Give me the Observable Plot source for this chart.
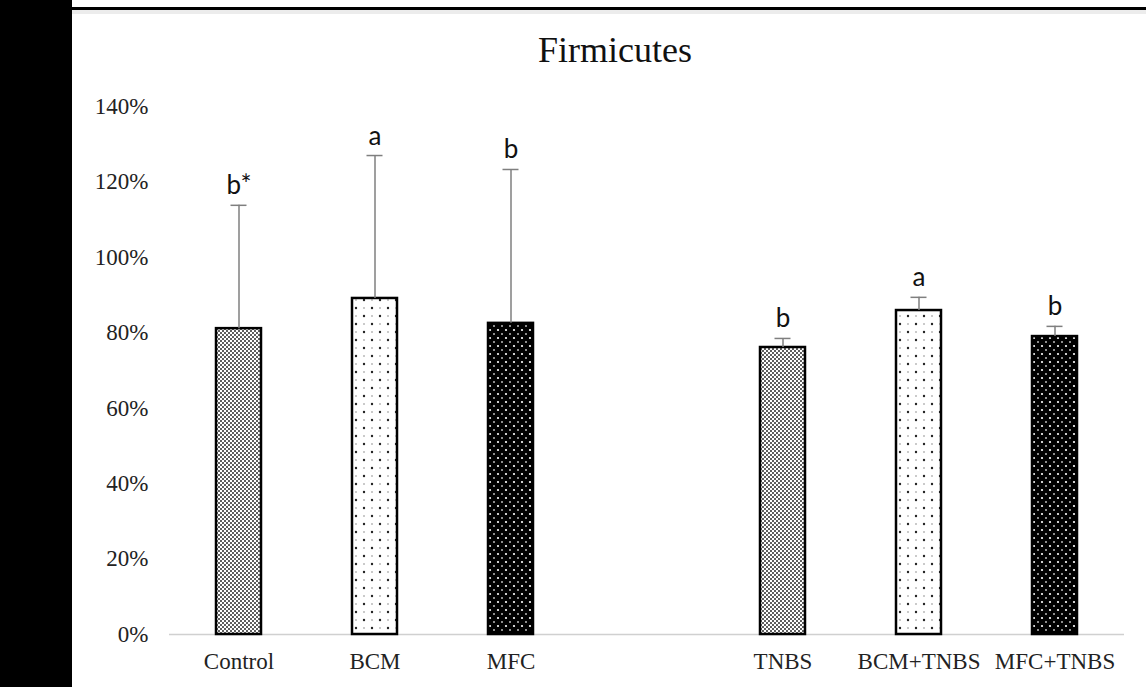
<!DOCTYPE html>
<html>
<head>
<meta charset="utf-8">
<script src="https://cdn.jsdelivr.net/npm/d3@7"></script>
<script src="https://cdn.jsdelivr.net/npm/@observablehq/plot@0.6"></script>
<style>
  html, body { margin: 0; padding: 0; background: #fff; overflow: hidden; }
  #wrap { position: relative; width: 1146px; height: 687px; }
  #band { position: absolute; left: 0; top: 0; width: 72px; height: 687px; background: #000; }
  #topline { position: absolute; left: 72px; top: 7px; width: 1074px; height: 3px; background: #000; }
  #topline2 { position: absolute; left: 72px; top: 10px; width: 1074px; height: 4px; background: #ececec; }
  #title { position: absolute; left: 615px; top: 32px; transform: translateX(-50%);
           font-family: "Liberation Serif", serif; font-size: 36px; line-height: 36px; color: #111; white-space: nowrap; }
  #chart { position: absolute; left: 0; top: 0; }
</style>
</head>
<body>
<div id="wrap">
  <svg width="0" height="0" style="position:absolute">
    <defs>
      <pattern id="pDense" width="4" height="4" patternUnits="userSpaceOnUse">
        <rect width="4" height="4" fill="#fff"/>
        <circle cx="1" cy="1" r="0.95" fill="#1a1a1a"/>
        <circle cx="3" cy="3" r="0.95" fill="#1a1a1a"/>
      </pattern>
      <pattern id="pSparse" width="16" height="16" patternUnits="userSpaceOnUse">
        <rect width="16" height="16" fill="#fff"/>
        <circle cx="4" cy="4" r="1.2" fill="#222"/>
        <circle cx="12" cy="12" r="1.2" fill="#222"/>
        <circle cx="12" cy="4" r="0.8" fill="#888"/>
        <circle cx="4" cy="12" r="0.8" fill="#888"/>
      </pattern>
      <pattern id="pDark" width="8" height="8" patternUnits="userSpaceOnUse">
        <rect width="8" height="8" fill="#000"/>
        <circle cx="2" cy="2" r="1.1" fill="#fff"/>
        <circle cx="6" cy="6" r="1.0" fill="#bbb"/>
      </pattern>
    </defs>
  </svg>
  <div id="band"></div>
  <div id="topline"></div>
  <div id="topline2"></div>
  <div id="chart"></div>
  <div id="title">Firmicutes</div>
</div>
<script>
const domainCats = ["Control", "BCM", "MFC", " ", "TNBS", "BCM+TNBS", "MFC+TNBS"];
const groups     = ["Control", "BCM", "MFC", "TNBS", "BCM+TNBS", "MFC+TNBS"];
const values     = [0.811, 0.891, 0.825, 0.761, 0.859, 0.790];
const errorTops  = [1.138, 1.270, 1.233, 0.785, 0.894, 0.817];
const letters    = ["b*", "a", "b", "b", "a", "b"];
const patterns   = ["url(#pDense)", "url(#pSparse)", "url(#pDark)", "url(#pDense)", "url(#pSparse)", "url(#pDark)"];
const yTicks     = [0, 0.2, 0.4, 0.6, 0.8, 1.0, 1.2, 1.4];

const data = groups.map((g, i) => ({group: g, value: values[i], top: errorTops[i], letter: letters[i], pattern: patterns[i]}));
const uniquePatterns = [...new Set(patterns)];

const chart = Plot.plot({
  width: 1146,
  height: 687,
  marginLeft: 169,
  marginRight: 22,
  marginTop: 106,
  marginBottom: 53,
  style: {fontFamily: "Liberation Serif, serif", fontSize: "23px", color: "#222", background: "transparent"},
  x: {domain: domainCats, paddingInner: 0.67, paddingOuter: 0.335, label: null},
  y: {domain: [0, 1.4], label: null},
  marks: [
    Plot.axisY({ticks: yTicks, tickFormat: d3.format(".0%"), tickSize: 0, tickPadding: 21, label: null, fontSize: 23}),
    Plot.axisX({tickSize: 0, tickPadding: 18, label: null, fontSize: 23}),
    Plot.ruleY([0], {stroke: "#d0d0d0", strokeWidth: 1.5}),
    ...uniquePatterns.map(p => Plot.barY(data.filter(d => d.pattern === p), {
      x: "group", y: "value", fill: p, stroke: "#000", strokeWidth: 2.5
    })),
    Plot.ruleX(data, {x: "group", y1: "value", y2: "top", stroke: "#7f7f7f", strokeWidth: 1.5}),
    Plot.tickY(data, {x: "group", y: "top", stroke: "#7f7f7f", strokeWidth: 1.5, insetLeft: 14.5, insetRight: 14.5}),
    Plot.text(data, {x: "group", y: "top", text: "letter", lineAnchor: "bottom", dy: -11,
      fontFamily: "Lato, sans-serif", fontSize: 26, fill: "#111"})
  ]
});
document.getElementById("chart").appendChild(chart);
</script>
</body>
</html>
